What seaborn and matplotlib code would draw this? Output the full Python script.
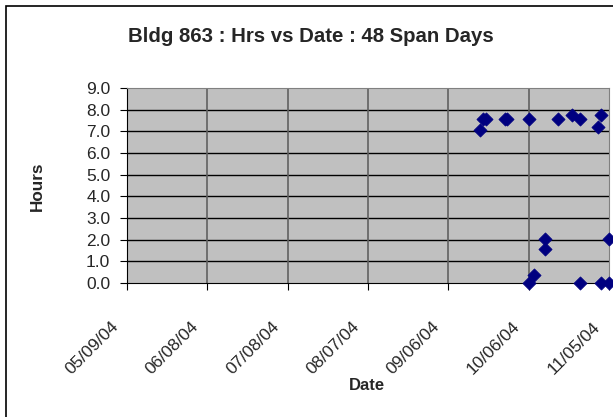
import pandas as pd
import matplotlib
matplotlib.use('Agg')
import matplotlib.pyplot as plt
import matplotlib.dates as mdates
from matplotlib.patches import Rectangle
from matplotlib.transforms import ScaledTranslation
import seaborn as sns

# Data
dates = ['2004-09-18', '2004-09-19', '2004-09-20', '2004-09-27', '2004-09-28',
         '2004-10-06', '2004-10-06', '2004-10-08', '2004-10-12', '2004-10-12',
         '2004-10-17', '2004-10-22', '2004-10-25', '2004-10-25', '2004-11-01',
         '2004-11-02', '2004-11-02', '2004-11-05', '2004-11-05']
hours = [7.05, 7.55, 7.55, 7.55, 7.55,
         7.55, 0.0, 0.37, 2.03, 1.55,
         7.55, 7.75, 7.55, 0.0, 7.2,
         7.75, 0.0, 0.0, 2.03]
tick_dates = ['2004-05-09', '2004-06-08', '2004-07-08', '2004-08-07',
              '2004-09-06', '2004-10-06', '2004-11-05']

df = pd.DataFrame({'Date': pd.to_datetime(dates), 'Hours': hours})

sns.set_style('white')
plt.rcParams['font.family'] = ['Liberation Sans', 'DejaVu Sans']

W, H = 613, 417
fig = plt.figure(figsize=(W / 100, H / 100), dpi=100)
ax = fig.add_axes([127 / W, 1 - 283 / H, (609 - 127) / W, (283 - 88) / H])

# chart border
fig.patches.append(Rectangle((6 / W, -0.05), 1.0, 1 - 6 / H + 0.05,
                             transform=fig.transFigure, fill=False,
                             edgecolor='black', linewidth=1.2, zorder=0))

ax.set_facecolor('#c0c0c0')
sns.scatterplot(data=df, x='Date', y='Hours', marker='D', s=45,
                color='#000080', edgecolor='#000080', ax=ax, zorder=5,
                clip_on=False)

ticks = pd.to_datetime(tick_dates)
ax.set_xlim(ticks[0], ticks[-1])
ax.set_xticks(ticks)
ax.xaxis.set_major_formatter(mdates.DateFormatter('%m/%d/%y'))
ax.set_ylim(0, 9)
ax.set_yticks([i * 1.0 for i in range(10)])
ax.set_yticklabels([f'{i:.1f}' for i in range(10)])

for y in range(1, 9):
    ax.axhline(y, color='black', linewidth=1, zorder=1)
for t in ticks[1:-1]:
    ax.axvline(t, color='#606060', linewidth=1.2, zorder=1)

for s in ['top', 'right']:
    ax.spines[s].set_color('#808080')
for s in ['left', 'bottom']:
    ax.spines[s].set_color('black')

ax.tick_params(axis='both', which='major', length=5, direction='out',
               color='black', labelsize=12.5, bottom=True, left=True)
ax.tick_params(axis='y', pad=7)
ax.tick_params(axis='x', pad=9)
plt.setp(ax.get_xticklabels(), rotation=45, ha='right', rotation_mode='anchor')
shift = ScaledTranslation(-0.165, -0.165, fig.dpi_scale_trans)
for lab in ax.get_xticklabels():
    lab.set_transform(lab.get_transform() + shift)

ax.set_xlabel('')
ax.set_ylabel('')
fig.text(367 / W, 1 - 386 / H, 'Date', ha='center', va='center',
         fontsize=12, fontweight='bold')
fig.text(37.5 / W, 1 - 186 / H, 'Hours', ha='center', va='center',
         rotation=90, fontsize=12.3, fontweight='bold')
fig.text(311 / W, 1 - 37 / H, 'Bldg 863 : Hrs vs Date : 48 Span Days',
         ha='center', va='center', fontsize=14.7, fontweight='bold')

fig.savefig('out.png', dpi=100)
